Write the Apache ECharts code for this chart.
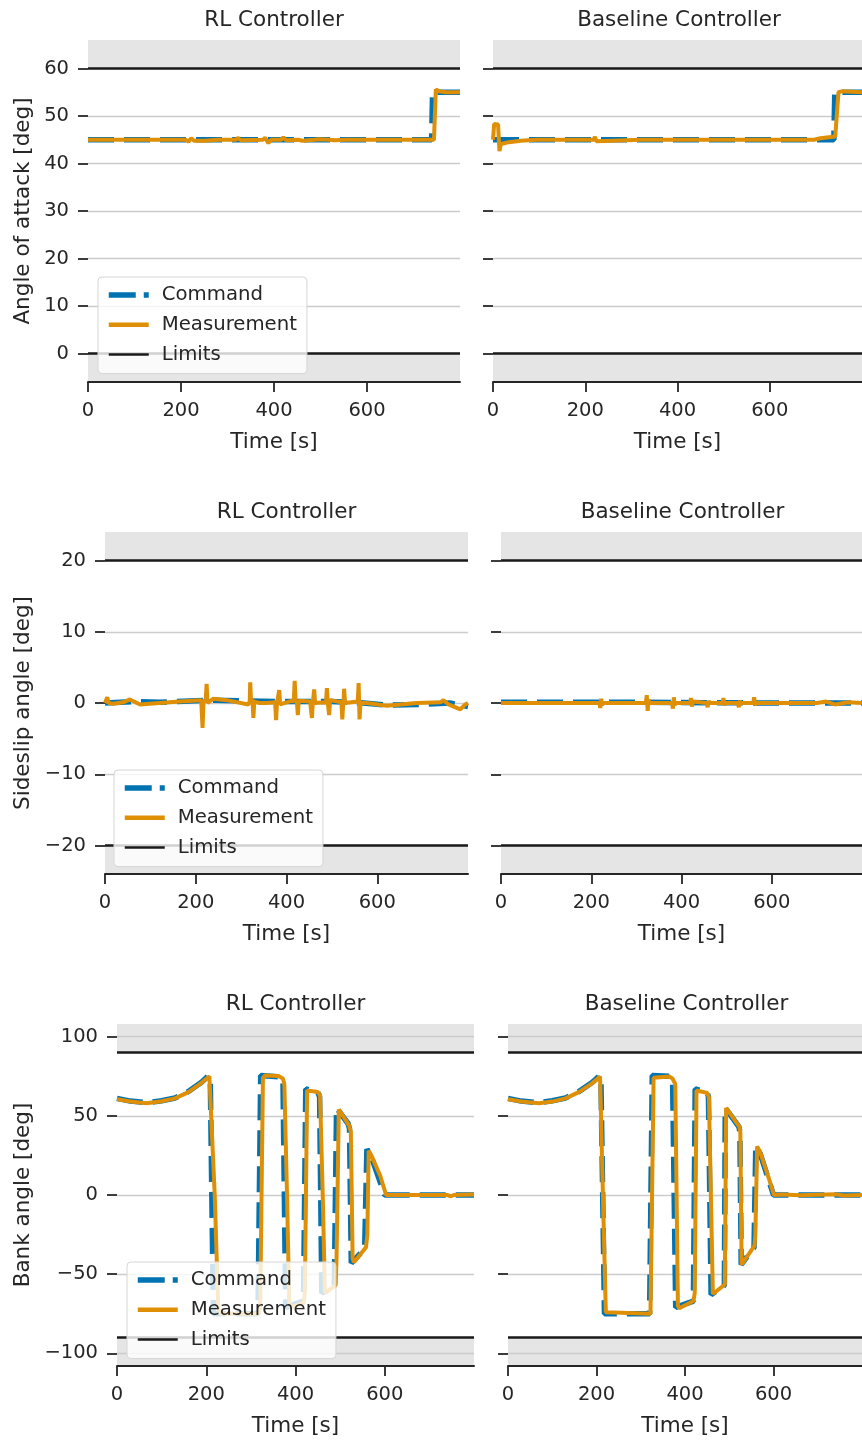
<!DOCTYPE html>
<html><head><meta charset="utf-8">
<script src="https://cdn.jsdelivr.net/npm/echarts@6/dist/echarts.min.js"></script>
<style>html,body{margin:0;padding:0;background:#fff}#c{width:862px;height:1440px}</style>
</head><body><div id="c"></div>
<script>
// ---------------- DATA ----------------
const xTicks = [0, 200, 400, 600];
const aoaTicks = [0, 10, 20, 30, 40, 50, 60];
const betaTicks = [-20, -10, 0, 10, 20];
const bankTicks = [-100, -50, 0, 50, 100];
const aoaLimits = [0, 60];
const betaLimits = [-20, 20];
const bankLimits = [-90, 90];
const titles = ['RL Controller', 'Baseline Controller'];
const yNames = ['Angle of attack [deg]', 'Sideslip angle [deg]', 'Bank angle [deg]'];
const legendNames = ['Command', 'Measurement', 'Limits'];

// Angle of attack
const aoaCmdRL = [[0,45],[739,45],[741,55],[800,55]];
const aoaMeasRL = [[0,45],[210,45],[216,44.6],[222,45.3],[228,44.8],[250,44.8],[280,45],[318,45],[323,45.4],[328,44.9],[376,45],[381,45.4],[388,44.3],[394,45],[415,45],[420,45.5],[426,44.9],[452,45],[456,45.4],[461,44.8],[488,45],[491,44.7],[496,45.1],[520,45],[524,45.4],[529,44.9],[556,45],[560,44.6],[565,45],[600,45],[700,45],[744,45],[748,55.6],[755,55.2],[770,55],[800,55]];
const aoaCmdBL = [[0,45],[739,45],[741,55],[800,55]];
const aoaMeasBL = [[0,45],[1.5,45],[2.5,48.3],[6,48.5],[11,48.2],[14,42.6],[17,44.1],[30,44.4],[60,44.8],[95,45],[218,45],[221,45.6],[224,44.7],[227,45],[320,45],[323,45.2],[326,45],[420,45],[423,45.2],[426,45],[560,45],[563,45.2],[566,45],[696,45],[710,45.3],[742,45.7],[749,55],[756,55.2],[800,55]];

// Sideslip angle
const betaCmdRL = [[0,0],[60,0.2],[120,0.1],[200,0.3],[240,0.4],[300,0.3],[400,0.2],[500,0.2],[570,0],[620,-0.3],[700,-0.2],[760,0],[800,-0.5]];
const betaMeasRL = [[0,0],[3,0],[5,0.8],[8,0],[18,-0.1],[40,0.1],[55,0.5],[77,-0.2],[120,0],[165,0.2],[212,0.4],[215,-3.5],[217,0.2],[222,0.5],[224,2.7],[226,0],[239,0.6],[268,0.4],[316,-0.2],[319,0.3],[320,2.9],[322,0],[325,0.5],[327,-2.1],[329,0.2],[340,0],[356,0],[375,0.1],[377,-2.4],[379,0],[382,0.2],[384,1.8],[386,-0.2],[411,0.3],[416,0.2],[418,3.1],[420,0.4],[423,0],[425,-1.7],[427,0.3],[452,0.2],[454,0],[456,-2.1],[458,0],[460,0.2],[461,1.9],[463,0],[487,0.1],[489,2.1],[491,0],[493,0],[494,-1.7],[496,0.4],[521,0.1],[523,-2.3],[525,0],[526,0.4],[527,2.0],[529,0],[557,0.2],[559,2.8],[560,0],[561,-2.3],[563,0],[577,0],[621,-0.4],[687,0],[740,0.1],[746,0.4],[757,-0.2],[783,-0.9],[794,-0.2],[800,0]];
const betaCmdBL = [[0,0.1],[300,0.1],[600,0],[800,0]];
const betaMeasBL = [[0,0],[218,0],[220,-0.7],[222,0.6],[224,-0.3],[226,0],[321,0],[323,1.1],[325,-1.1],[327,0.5],[329,0],[379,0],[381,-0.8],[383,0.8],[385,-0.3],[387,0],[419,0],[421,0.7],[423,-0.5],[425,0.2],[427,0],[456,0],[458,-0.6],[460,0.3],[462,0],[491,0],[493,0.7],[495,-0.3],[497,0],[525,0],[527,-0.6],[529,0.3],[531,0],[559,0],[561,0.8],[563,-0.3],[565,0],[700,0],[720,0.2],[740,-0.2],[770,0.1],[800,0]];

// Bank angle
const bankCmdRL = [[0,61],[30,59.3],[66,58.3],[100,59.5],[130,61.3],[160,65.3],[190,71.3],[205,75.3],[209,74],[216,-75],[316,-75],[322,75.5],[368,74.5],[372,71],[378,-71],[418,-67],[423,67],[450,65],[454,62],[459,-62],[487,-57],[492,55],[518,45],[521,42],[525,-43],[555,-34],[560,29],[570,24],[600,0],[800,0]];
const bankMeasRL = [[0,60.5],[30,59],[66,58],[100,59.2],[130,61],[160,65],[190,71],[207,75],[211,74],[219,0],[227,-72],[232,-75],[318,-75],[321,-70],[327,74],[332,75.5],[362,75.2],[372,73.5],[375,70],[381,0],[386,-68],[390,-71],[419,-68],[421,-60],[426,66],[430,67],[450,65],[455,63],[461,0],[466,-62],[490,-57],[492,-40],[497,54],[500,55],[520,44],[524,40],[528,-40],[531,-42.5],[558,-33],[561,-25],[564,28],[570,25],[590,12],[603,0],[620,0],[740,0],[748,-0.8],[755,0],[800,0.3]];
const bankCmdBL = [[0,61],[30,59.3],[70,58.3],[100,59.5],[130,61.3],[160,65.3],[190,71],[207,75.3],[210,74],[218,-75],[320,-75],[326,75.5],[366,75],[372,72],[379,-71],[419,-67],[423,67],[450,65],[453,62],[459,-63],[489,-57],[491,55],[522,43],[524,40],[527,-44],[556,-33],[560,31],[570,26],[600,0],[800,0]];
const bankMeasBL = [[0,60.5],[30,59],[70,58],[100,59],[130,61],[160,65],[190,70.5],[208,74.8],[212,74],[221,-74],[225,-75],[322,-75],[329,74],[333,75],[365,74.8],[372,73.5],[378,70],[384,-70],[387,-71.5],[419,-67],[422,-62],[426,66],[430,66.8],[450,64.5],[454,62],[463,-62.5],[490,-56.5],[493,55],[497,55],[523,43],[525,40],[528,-44],[557,-32],[559,-25],[563,30.7],[570,27],[590,10],[601,0],[620,0.3],[660,-0.2],[700,0.2],[740,0.4],[760,-0.3],[800,0]];

// ---------------- LAYOUT / STYLE ----------------
const FONT = 'DejaVu Sans';
const TXT = '#262626';
const C_CMD = '#0173b2', C_MEAS = '#de8f05', C_LIM = '#1a1a1a', C_BAND = '#e5e5e5';

const rows = [
  {top: 40, height: 342, lefts: [88, 493], width: 372, ymin: -6, ymax: 66, ticks: aoaTicks, lim: aoaLimits, nameGap: 54,
   data: [[aoaCmdRL, aoaMeasRL], [aoaCmdBL, aoaMeasBL]], legend: {left: 98, top: 277}},
  {top: 532, height: 342, lefts: [105, 501], width: 363, ymin: -24, ymax: 24, ticks: betaTicks, lim: betaLimits, nameGap: 71,
   data: [[betaCmdRL, betaMeasRL], [betaCmdBL, betaMeasBL]], legend: {left: 114, top: 770}},
  {top: 1024, height: 342, lefts: [117, 508], width: 357, ymin: -108, ymax: 108, ticks: bankTicks, lim: bankLimits, nameGap: 83,
   data: [[bankCmdRL, bankMeasRL], [bankCmdBL, bankMeasBL]], legend: {left: 127, top: 1262}}
];

const fmt = v => v < 0 ? '\u2212' + Math.abs(v) : String(v);

const grid = [], xAxis = [], yAxis = [], series = [], title = [], legend = [];
let gi = 0;
rows.forEach((r, ri) => {
  r.lefts.forEach((left, ci) => {
    const isLeft = ci === 0;
    grid.push({left: left, top: r.top, width: r.width, height: r.height, containLabel: false});
    title.push({text: titles[ci], left: left + r.width / 2, top: r.top - 31, textAlign: 'center', padding: 0,
      textStyle: {fontFamily: FONT, fontSize: 21.5, fontWeight: 'normal', color: TXT}});
    xAxis.push({gridIndex: gi, type: 'value', min: 0, max: 800,
      axisLine: {show: true, onZero: false, lineStyle: {color: TXT, width: 2}},
      axisTick: {show: true, length: 10, customValues: xTicks, lineStyle: {color: TXT, width: 1.8}},
      axisLabel: {customValues: xTicks, margin: 19, fontSize: 19.5, color: TXT, fontFamily: FONT},
      splitLine: {show: false},
      name: 'Time [s]', nameLocation: 'middle', nameGap: 49,
      nameTextStyle: {fontSize: 21.5, color: TXT, fontFamily: FONT}});
    yAxis.push({gridIndex: gi, type: 'value', min: r.ymin, max: r.ymax,
      axisLine: {show: false},
      axisTick: {show: true, length: 10, customValues: r.ticks, lineStyle: {color: TXT, width: 1.8}},
      axisLabel: {show: isLeft, customValues: r.ticks, formatter: fmt, margin: 19, fontSize: 19.5, color: TXT, fontFamily: FONT},
      splitLine: {show: true, lineStyle: {color: '#cccccc', width: 1.3}},
      name: isLeft ? yNames[ri] : '', nameLocation: 'middle', nameGap: r.nameGap,
      nameTextStyle: {fontSize: 21.5, color: TXT, fontFamily: FONT}});
    series.push({type: 'line', name: 'band', xAxisIndex: gi, yAxisIndex: gi, data: [], z: -1, silent: true,
      markArea: {z: -1, silent: true, itemStyle: {color: C_BAND}, label: {show: false},
        data: [[{yAxis: r.lim[1]}, {yAxis: r.ymax}], [{yAxis: r.ymin}, {yAxis: r.lim[0]}]]}});
    series.push({type: 'line', name: 'Command', xAxisIndex: gi, yAxisIndex: gi, data: r.data[ci][0], symbol: 'none', z: 2,
      lineStyle: {color: C_CMD, width: 5.5, type: [26, 10]}, itemStyle: {color: C_CMD}});
    series.push({type: 'line', name: 'Measurement', xAxisIndex: gi, yAxisIndex: gi, data: r.data[ci][1], symbol: 'none', z: 3,
      lineStyle: {color: C_MEAS, width: 4}, itemStyle: {color: C_MEAS}});
    series.push({type: 'line', name: 'Limits', xAxisIndex: gi, yAxisIndex: gi, data: [], symbol: 'none', z: 3,
      lineStyle: {color: C_LIM, width: 2.5}, itemStyle: {color: C_LIM},
      markLine: {symbol: 'none', silent: true, label: {show: false}, animation: false,
        lineStyle: {color: C_LIM, width: 2.5, type: 'solid'},
        data: [{yAxis: r.lim[0]}, {yAxis: r.lim[1]}]}});
    if (isLeft) {
      legend.push({orient: 'vertical', left: r.legend.left, top: r.legend.top, z: 10,
        itemWidth: 40, itemHeight: 20, itemGap: 9.8, padding: [8, 10, 9, 8],
        backgroundColor: 'rgba(255,255,255,0.8)', borderColor: '#d6d6d6', borderWidth: 1, borderRadius: 4,
        selectedMode: false,
        textStyle: {fontSize: 19.7, color: TXT, fontFamily: FONT, padding: [0, 0, 0, 8], lineHeight: 20},
        data: [
          {name: legendNames[0], itemStyle: {opacity: 0}, lineStyle: {width: 5.5, type: [27, 8], color: C_CMD, opacity: 1}},
          {name: legendNames[1], itemStyle: {opacity: 0}, lineStyle: {width: 4.5, color: C_MEAS, opacity: 1}},
          {name: legendNames[2], itemStyle: {opacity: 0}, lineStyle: {width: 2.5, color: C_LIM, opacity: 1}}
        ]});
    }
    gi++;
  });
});

const chart = echarts.init(document.getElementById('c'), null, {renderer: 'canvas'});
chart.setOption({animation: false, backgroundColor: '#ffffff', grid, xAxis, yAxis, series, title, legend});
</script>
</body></html>
